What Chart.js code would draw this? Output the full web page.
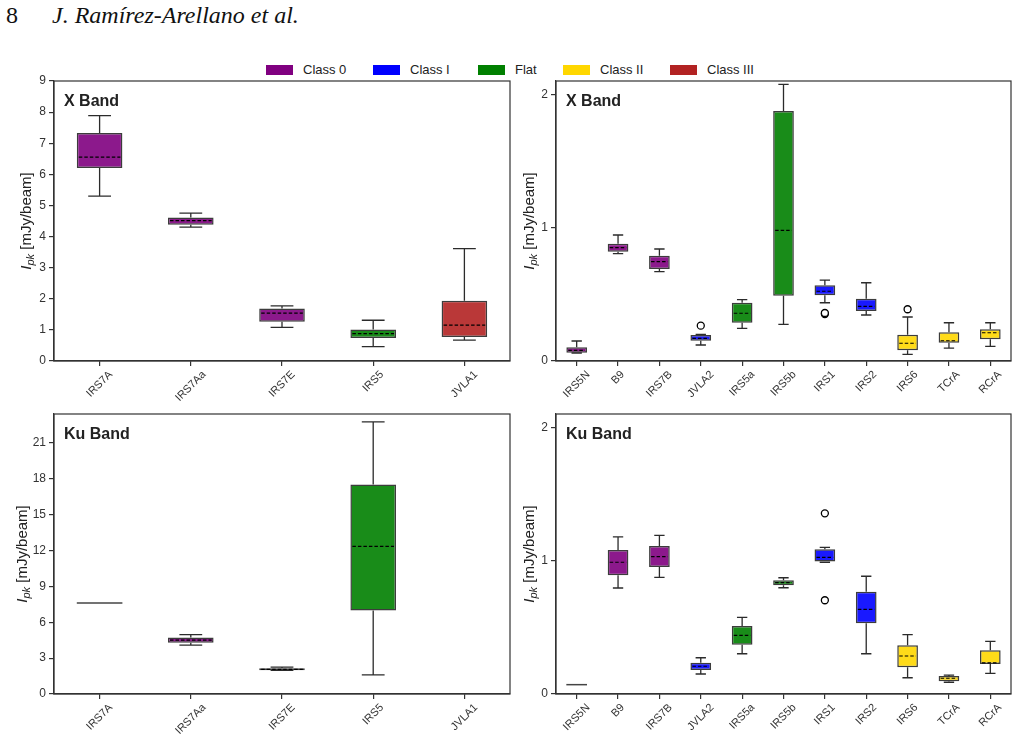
<!DOCTYPE html>
<html>
<head>
<meta charset="utf-8">
<script src="https://cdn.jsdelivr.net/npm/chart.js@4.4.1/dist/chart.umd.min.js"></script>
<style>
  body { margin: 0; width: 1018px; height: 742px; position: relative; background: #fff; overflow: hidden; }
  .hdr { position: absolute; top: 3px; font: 24px/24px "Liberation Serif", "Times New Roman", serif; color: #111; white-space: nowrap; }
  .hdr.au { font-style: italic; }
  .leg-box { position: absolute; top: 65px; width: 27px; height: 10px; }
  .leg-txt { position: absolute; top: 62px; font: 13px/16px "Liberation Sans", Arial, sans-serif; color: #222; white-space: nowrap; }
  .panel { position: absolute; }
</style>
</head>
<body>
<div class="hdr" style="left:6px">8</div>
<div class="hdr au" style="left:52px">J. Ramírez-Arellano et al.</div>
<div id="legend"></div>

<div class="panel" style="left:0;top:75px;width:515px;height:330px"><canvas id="xWide"></canvas></div>
<div class="panel" style="left:505px;top:75px;width:513px;height:330px"><canvas id="xCompact"></canvas></div>
<div class="panel" style="left:0;top:405px;width:515px;height:337px"><canvas id="kuWide"></canvas></div>
<div class="panel" style="left:505px;top:405px;width:513px;height:337px"><canvas id="kuCompact"></canvas></div>

<script>
// ---- data ----
const classNames = ['Class 0', 'Class I', 'Flat', 'Class II', 'Class III'];
const classRgb = ['128,0,128', '0,0,255', '0,128,0', '255,215,0', '178,34,34'];

const wideSources = ['IRS7A', 'IRS7Aa', 'IRS7E', 'IRS5', 'JVLA1'];
const wideClasses = ['Class 0', 'Class 0', 'Class 0', 'Flat', 'Class III'];
const compactSources = ['IRS5N', 'B9', 'IRS7B', 'JVLA2', 'IRS5a', 'IRS5b', 'IRS1', 'IRS2', 'IRS6', 'TCrA', 'RCrA'];
const compactClasses = ['Class 0', 'Class 0', 'Class 0', 'Class I', 'Flat', 'Flat', 'Class I', 'Class I', 'Class II', 'Class II', 'Class II'];

// X band, bright sources (mJy/beam)
const xWideLow  = [5.30, 4.30, 1.08, 0.46, 0.67];
const xWideQ1   = [6.20, 4.38, 1.26, 0.74, 0.77];
const xWideMed  = [6.55, 4.51, 1.54, 0.88, 1.15];
const xWideQ3   = [7.33, 4.61, 1.69, 1.01, 1.94];
const xWideHigh = [7.89, 4.75, 1.77, 1.31, 3.61];
const xWideOutliers = [];

// X band, faint sources
const xCompactLow  = [0.060, 0.805, 0.670, 0.120, 0.245, 0.275, 0.437, 0.345, 0.050, 0.097, 0.110];
const xCompactQ1   = [0.062, 0.820, 0.690, 0.152, 0.287, 0.490, 0.493, 0.375, 0.080, 0.137, 0.163];
const xCompactMed  = [0.080, 0.850, 0.745, 0.170, 0.358, 0.980, 0.523, 0.410, 0.133, 0.152, 0.212];
const xCompactQ3   = [0.103, 0.880, 0.790, 0.195, 0.437, 1.875, 0.568, 0.467, 0.197, 0.215, 0.238];
const xCompactHigh = [0.150, 0.945, 0.840, 0.200, 0.460, 2.075, 0.607, 0.587, 0.330, 0.287, 0.287];
const xCompactOutliers = [['JVLA2', 0.265], ['IRS1', 0.352], ['IRS1', 0.360], ['IRS6', 0.388]];

// Ku band, bright sources
const kuWideLow  = [7.6, 4.08, 1.98, 1.60, null];
const kuWideQ1   = [7.6, 4.28, 1.98, 6.97, null];
const kuWideMed  = [7.6, 4.50, 2.05, 12.33, null];
const kuWideQ3   = [7.6, 4.72, 2.15, 17.50, null];
const kuWideHigh = [7.6, 4.97, 2.25, 22.75, null];
const kuWideOutliers = [];

// Ku band, faint sources
const kuCompactLow  = [0.070, 0.795, 0.875, 0.150, 0.302, 0.797, 0.988, 0.302, 0.122, 0.088, 0.155];
const kuCompactQ1   = [0.070, 0.890, 0.953, 0.180, 0.370, 0.815, 0.993, 0.530, 0.200, 0.095, 0.225];
const kuCompactMed  = [0.070, 0.988, 1.030, 0.208, 0.440, 0.835, 1.025, 0.635, 0.285, 0.118, 0.233];
const kuCompactQ3   = [0.070, 1.080, 1.110, 0.235, 0.510, 0.853, 1.085, 0.767, 0.365, 0.135, 0.328];
const kuCompactHigh = [0.070, 1.178, 1.190, 0.272, 0.575, 0.872, 1.100, 0.883, 0.445, 0.142, 0.395];
const kuCompactOutliers = [['IRS1', 1.355], ['IRS1', 0.703]];

// ---- helpers ----
const FONT = '"Liberation Sans", Arial, sans-serif';
const rgbOf = cls => classRgb[classNames.indexOf(cls)];

// legend (whole figure)
const legendLeft = [266, 373, 478, 563, 670];
const legendEl = document.getElementById('legend');
classNames.forEach((name, i) => {
  const box = document.createElement('div');
  box.className = 'leg-box';
  box.style.left = legendLeft[i] + 'px';
  box.style.background = 'rgb(' + classRgb[i] + ')';
  const txt = document.createElement('div');
  txt.className = 'leg-txt';
  txt.style.left = (legendLeft[i] + 37) + 'px';
  txt.textContent = name;
  legendEl.appendChild(box);
  legendEl.appendChild(txt);
});

// whiskers, medians, frame, labels
const boxPlotPlugin = {
  id: 'boxPlot',
  afterDatasetsDraw(chart) {
    const { ctx, scales: { y } } = chart;
    const st = chart.data.datasets[0].stats;
    const meta = chart.getDatasetMeta(0);
    ctx.save();
    st.q1.forEach((q1, i) => {
      if (q1 == null) return;
      const bar = meta.data[i];
      const cx = bar.x, w = bar.width;
      const yq1 = y.getPixelForValue(q1);
      const yq3 = y.getPixelForValue(st.q3[i]);
      const ylo = y.getPixelForValue(st.low[i]);
      const yhi = y.getPixelForValue(st.high[i]);
      const ymed = y.getPixelForValue(st.med[i]);

      // a single detection: box collapses to one line
      if (q1 === st.q3[i] && st.low[i] === st.high[i]) {
        ctx.strokeStyle = '#444';
        ctx.lineWidth = 1.5;
        ctx.beginPath();
        ctx.moveTo(cx - w / 2, yq1);
        ctx.lineTo(cx + w / 2, yq1);
        ctx.stroke();
        return;
      }
      ctx.setLineDash([]);
      ctx.strokeStyle = '#2b2b2b';
      ctx.lineWidth = 1.3;
      ctx.beginPath();
      ctx.moveTo(cx, yq3); ctx.lineTo(cx, yhi);
      ctx.moveTo(cx, yq1); ctx.lineTo(cx, ylo);
      ctx.moveTo(cx - w / 4, yhi); ctx.lineTo(cx + w / 4, yhi);
      ctx.moveTo(cx - w / 4, ylo); ctx.lineTo(cx + w / 4, ylo);
      ctx.stroke();

      ctx.setLineDash([3.5, 2]);
      ctx.strokeStyle = '#000';
      ctx.lineWidth = 1.2;
      ctx.beginPath();
      ctx.moveTo(cx - w / 2 + 2, ymed);
      ctx.lineTo(cx + w / 2 - 2, ymed);
      ctx.stroke();
    });
    ctx.restore();
  },
  afterDraw(chart, args, opts) {
    const { ctx, chartArea: a, scales: { x } } = chart;
    ctx.save();
    // frame
    ctx.strokeStyle = '#333';
    ctx.lineWidth = 1.2;
    ctx.strokeRect(a.left, a.top, a.right - a.left, a.bottom - a.top);

    // band label
    ctx.fillStyle = '#222';
    ctx.font = 'bold 16px ' + FONT;
    ctx.textAlign = 'left';
    ctx.textBaseline = 'middle';
    ctx.fillText(opts.band, a.left + 10, a.top + 21);

    // rotated category labels, centred under each tick
    ctx.font = '11px ' + FONT;
    ctx.fillStyle = '#333';
    ctx.textAlign = 'center';
    chart.data.labels.forEach((lab, i) => {
      const px = x.getPixelForTick(i);
      const w = ctx.measureText(lab).width;
      const d = (w + 8) * Math.SQRT1_2 / 2;
      ctx.save();
      ctx.translate(px, a.bottom + 9 + d);
      ctx.rotate(-Math.PI / 4);
      ctx.fillText(lab, 0, 0);
      ctx.restore();
    });

    // y title: I_pk [mJy/beam]
    ctx.save();
    ctx.translate(a.left - opts.titleGap, (a.top + a.bottom) / 2);
    ctx.rotate(-Math.PI / 2);
    ctx.fillStyle = '#222';
    ctx.textAlign = 'left';
    const fI = 'italic 15px ' + FONT, fSub = 'italic 11px ' + FONT, fRest = '15px ' + FONT;
    ctx.font = fI; const wI = ctx.measureText('I').width;
    ctx.font = fSub; const wSub = ctx.measureText('pk').width;
    ctx.font = fRest; const wRest = ctx.measureText(' [mJy/beam]').width;
    let sx = -(wI + wSub + wRest) / 2;
    ctx.font = fI; ctx.fillText('I', sx, 0); sx += wI;
    ctx.font = fSub; ctx.fillText('pk', sx, 4); sx += wSub;
    ctx.font = fRest; ctx.fillText(' [mJy/beam]', sx, 0);
    ctx.restore();
    ctx.restore();
  }
};

function makePanel(id, opt) {
  const box = opt.box, area = opt.area;
  const stats = { low: opt.low, q1: opt.q1, med: opt.med, q3: opt.q3, high: opt.high };
  return new Chart(document.getElementById(id), {
    type: 'bar',
    data: {
      labels: opt.labels,
      datasets: [
        {
          type: 'bar',
          data: opt.q1.map((v, i) => v == null ? null : [v, opt.q3[i]]),
          stats: stats,
          backgroundColor: opt.classes.map(c => 'rgba(' + rgbOf(c) + ',0.9)'),
          borderColor: '#3c3c3c',
          borderWidth: 1.5,
          borderSkipped: false,
          barPercentage: 0.5,
          categoryPercentage: 1.0,
          order: 2
        },
        {
          type: 'line',
          data: opt.outliers.map(o => ({ x: o[0], y: o[1] })),
          showLine: false,
          pointStyle: 'circle',
          pointRadius: 3.5,
          pointBorderWidth: 1.3,
          pointBorderColor: '#000',
          pointBackgroundColor: '#fff',
          order: 1
        }
      ]
    },
    options: {
      responsive: true,
      maintainAspectRatio: false,
      animation: false,
      events: [],
      layout: {
        padding: {
          left: 0,
          bottom: 0,
          top: area.top,
          right: box.width - area.right
        }
      },
      scales: {
        x: {
          type: 'category',
          offset: true,
          grid: { offset: false, drawOnChartArea: false, drawTicks: true, tickLength: 5, color: '#333', lineWidth: 1.2 },
          border: { display: true, color: '#333', width: 1.2 },
          ticks: { autoSkip: false, maxRotation: 0, callback: () => '' },
          afterFit: s => { s.height = box.height - area.bottom; }
        },
        y: {
          min: 0,
          max: opt.yMax,
          grid: { drawOnChartArea: false, drawTicks: true, tickLength: 5, color: '#333', lineWidth: 1.2 },
          border: { display: true, color: '#333', width: 1.2 },
          ticks: {
            stepSize: opt.yStep,
            includeBounds: false,
            padding: 3,
            color: '#333',
            font: { family: FONT, size: 12, lineHeight: 0.4 }
          },
          afterFit: s => { s.width = area.left; }
        }
      },
      plugins: {
        legend: { display: false },
        tooltip: { enabled: false },
        boxPlot: { band: opt.band, titleGap: opt.titleGap }
      }
    },
    plugins: [boxPlotPlugin]
  });
}

// panel boxes in page coordinates; chart areas converted to panel-local ones
const wideBoxTop = { left: 0, top: 75, width: 515, height: 330 };
const compactBoxTop = { left: 505, top: 75, width: 513, height: 330 };
const wideBoxBot = { left: 0, top: 405, width: 515, height: 337 };
const compactBoxBot = { left: 505, top: 405, width: 513, height: 337 };
const rel = (b, l, t, r, bt) => ({ left: l - b.left, top: t - b.top, right: r - b.left, bottom: bt - b.top });

makePanel('xWide', {
  box: wideBoxTop,
  area: rel(wideBoxTop, 54, 81, 510, 361),
  labels: wideSources, classes: wideClasses,
  low: xWideLow, q1: xWideQ1, med: xWideMed, q3: xWideQ3, high: xWideHigh,
  outliers: xWideOutliers, yMax: 9, yStep: 1, band: 'X Band', titleGap: 27
});
makePanel('xCompact', {
  box: compactBoxTop,
  area: rel(compactBoxTop, 556, 81, 1011, 361),
  labels: compactSources, classes: compactClasses,
  low: xCompactLow, q1: xCompactQ1, med: xCompactMed, q3: xCompactQ3, high: xCompactHigh,
  outliers: xCompactOutliers, yMax: 2.1, yStep: 1, band: 'X Band', titleGap: 26
});
makePanel('kuWide', {
  box: wideBoxBot,
  area: rel(wideBoxBot, 54, 414, 510, 694),
  labels: wideSources, classes: wideClasses,
  low: kuWideLow, q1: kuWideQ1, med: kuWideMed, q3: kuWideQ3, high: kuWideHigh,
  outliers: kuWideOutliers, yMax: 23.4, yStep: 3, band: 'Ku Band', titleGap: 31
});
makePanel('kuCompact', {
  box: compactBoxBot,
  area: rel(compactBoxBot, 556, 414, 1011, 694),
  labels: compactSources, classes: compactClasses,
  low: kuCompactLow, q1: kuCompactQ1, med: kuCompactMed, q3: kuCompactQ3, high: kuCompactHigh,
  outliers: kuCompactOutliers, yMax: 2.1, yStep: 1, band: 'Ku Band', titleGap: 26
});
</script>
</body>
</html>
